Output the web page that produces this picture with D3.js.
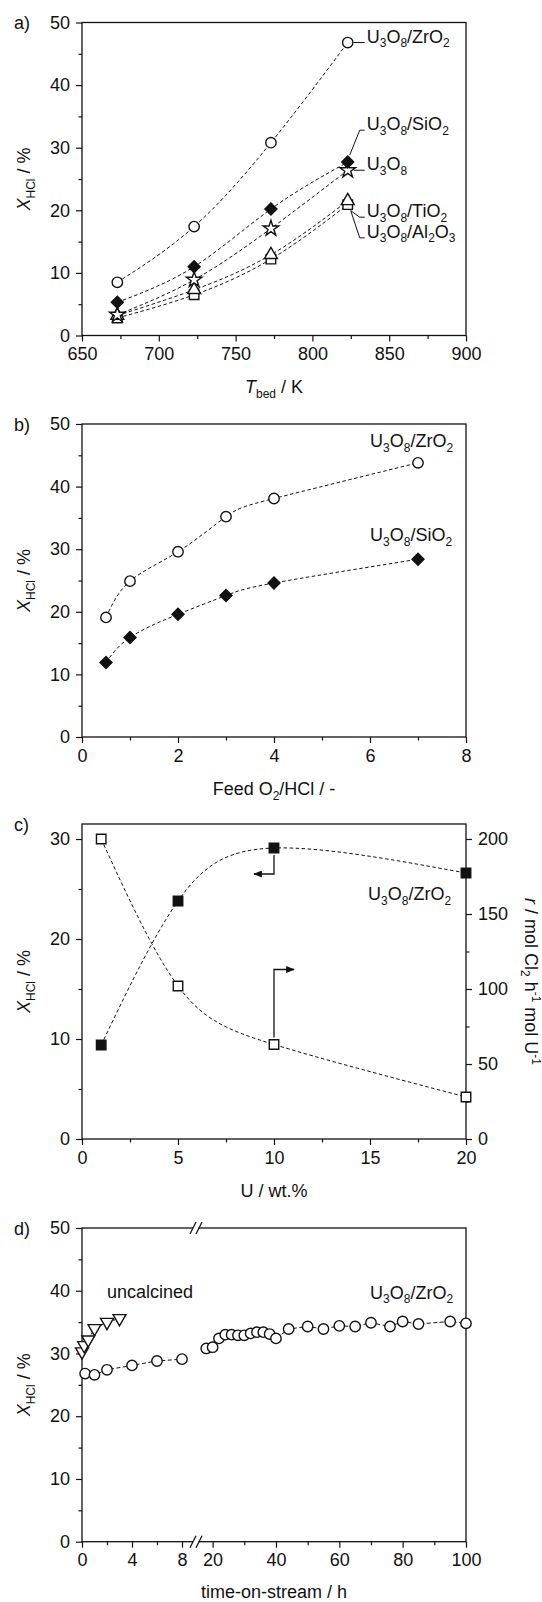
<!DOCTYPE html>
<html>
<head>
<meta charset="utf-8">
<script src="https://cdn.jsdelivr.net/npm/d3@7"></script>
<style>
  body { margin: 0; background: #fff; }
  svg text { font-family: "Liberation Sans", Arial, sans-serif; fill: #111; }
</style>
</head>
<body>
<svg id="fig" width="542" height="1602"></svg>
<script>
// ---- panel a: conversion vs bed temperature
const tempK = [673, 723, 773, 823];
const aZrO2 = [8.5, 17.4, 30.8, 46.8];
const aSiO2 = [5.3, 11.0, 20.2, 27.7];
const aU3O8 = [3.3, 8.9, 17.1, 26.4];
const aTiO2 = [3.2, 7.3, 12.9, 21.5];
const aAl2O3 = [2.8, 6.5, 12.2, 20.9];

// ---- panel b: conversion vs feed O2/HCl
const feedRatio = [0.5, 1, 2, 3, 4, 7];
const bZrO2 = [19.1, 24.9, 29.6, 35.2, 38.1, 43.8];
const bSiO2 = [11.9, 15.9, 19.6, 22.6, 24.6, 28.4];

// ---- panel c: conversion and rate vs U loading
const uLoad = [1, 5, 10, 20];
const cConv = [9.4, 23.8, 29.1, 26.6];
const cRate = [200, 102, 63, 28];

// ---- panel d: time-on-stream
const tUncalc = [0, 0.17, 0.5, 1, 2, 3];
const dUncalc = [30.3, 31.3, 32.2, 34.0, 35.0, 35.6];
const tEarly = [0.25, 1, 2, 4, 6, 8];
const dEarly = [26.8, 26.6, 27.4, 28.1, 28.8, 29.1];
const tLate = [18, 20, 22, 24, 26, 28, 30, 32, 34, 36, 38, 40, 44, 50, 55, 60, 65, 70, 76, 80, 85, 95, 100];
const dLate = [30.8, 31.0, 32.4, 33.0, 33.0, 32.9, 32.9, 33.2, 33.4, 33.4, 33.1, 32.4, 33.9, 34.3, 33.9, 34.4, 34.3, 34.9, 34.3, 35.1, 34.7, 35.1, 34.8];

// tick labels
const ticksA = [650, 700, 750, 800, 850, 900];
const ticksB = [0, 2, 4, 6, 8];
const ticksC = [0, 5, 10, 15, 20];
const ticksD1 = [0, 4, 8];
const ticksD2 = [20, 40, 60, 80, 100];
const ticksY = [0, 10, 20, 30, 40, 50];
const ticksYc = [0, 10, 20, 30];
const ticksRate = [0, 50, 100, 150, 200];

const INK = "#111";
const L = 82, R = 466;
const svg = d3.select("#fig");
svg.append("rect").attr("width", 542).attr("height", 1602).attr("fill", "#fff");

svg.append("defs").append("marker")
  .attr("id", "head").attr("viewBox", "0 0 10 8").attr("refX", 9).attr("refY", 4)
  .attr("markerWidth", 10).attr("markerHeight", 7).attr("markerUnits", "userSpaceOnUse")
  .attr("orient", "auto")
  .append("path").attr("d", "M0,0L10,4L0,8Z").attr("fill", INK);

const U3O8 = [["U"], ["3", "sub"], ["O"], ["8", "sub"]];
const withSupport = s => U3O8.concat([["/" + s.slice(0, -1)], [s.slice(-1), "sub"]]);
const XHCL = [["X", "it"], ["HCl", "sub"], [" / %"]];

function rich(text, parts) {
  let shift = 0;
  parts.forEach(([s, kind]) => {
    const target = kind === "sub" ? 4.5 : kind === "sup" ? -7 : 0;
    const t = text.append("tspan").text(s).attr("dy", target - shift);
    if (kind === "sub" || kind === "sup") t.attr("font-size", 12);
    if (kind === "it") t.attr("font-style", "italic");
    shift = target;
  });
  return text;
}

function label(g, x, y, parts, anchor) {
  return rich(g.append("text").attr("x", x).attr("y", y).attr("dy", "0.35em")
    .attr("font-size", 18).attr("text-anchor", anchor || "start"), parts);
}

function styleAxis(a) {
  a.attr("font-size", 18).attr("font-family", '"Liberation Sans", Arial, sans-serif');
  a.select(".domain").remove();
  a.selectAll("line").attr("stroke", INK).attr("stroke-width", 1.2);
  a.selectAll("text").attr("fill", INK);
}

function drawAxis(g, gen, pos, major, minor) {
  const a = g.append("g").attr("transform", pos)
    .call(gen.tickValues(major).tickSize(6).tickPadding(6).tickFormat(d3.format("d")));
  styleAxis(a);
  const m = g.append("g").attr("transform", pos)
    .call(gen.tickValues(minor).tickSize(3.5).tickFormat(""));
  styleAxis(m);
}

function frame(g, top, bottom) {
  g.append("rect").attr("x", L).attr("y", top).attr("width", R - L).attr("height", bottom - top)
    .attr("fill", "none").attr("stroke", INK).attr("stroke-width", 1.3);
}

function curve(g, xs, ys, x, y, kind, dash) {
  g.append("path").datum(xs.map((v, i) => [v, ys[i]]))
    .attr("d", d3.line().x(d => x(d[0])).y(d => y(d[1])).curve(kind))
    .attr("fill", "none").attr("stroke", INK).attr("stroke-width", 1)
    .attr("stroke-dasharray", dash || "3.5,2.5");
}

const SYM = {
  circle: [d3.symbolCircle, 85, 0],
  diamond: [d3.symbolSquare, 72, 45],
  star: [d3.symbolStar, 75, 0],
  triangle: [d3.symbolTriangle, 72, 0],
  tridown: [d3.symbolTriangle, 72, 180],
  square: [d3.symbolSquare, 90, 0]
};

function marks(g, xs, ys, x, y, shape, filled) {
  const [type, size, rot] = SYM[shape];
  g.append("g").selectAll("path").data(xs.map((v, i) => [v, ys[i]])).join("path")
    .attr("d", d3.symbol(type, size))
    .attr("transform", d => `translate(${x(d[0])},${y(d[1])}) rotate(${rot})`)
    .attr("fill", filled ? INK : "#fff").attr("stroke", INK).attr("stroke-width", 1.4);
}

function yTitle(g, top, bottom) {
  rich(g.append("text").attr("transform", `translate(30,${(top + bottom) / 2}) rotate(-90)`)
    .attr("text-anchor", "middle").attr("font-size", 18), XHCL);
}

function xTitle(g, y, parts) {
  rich(g.append("text").attr("x", (L + R) / 2).attr("y", y).attr("text-anchor", "middle")
    .attr("font-size", 18), parts);
}

function panelTag(g, top, s) {
  g.append("text").attr("x", 14).attr("y", top + 6.5).attr("font-size", 18).text(s);
}

// ================= panel a =================
{
  const top = 22.5, bottom = 335.5;
  const g = svg.append("g");
  const x = d3.scaleLinear().domain([650, 900]).range([L, R]);
  const y = d3.scaleLinear().domain([0, 50]).range([bottom, top]);
  frame(g, top, bottom);
  drawAxis(g, d3.axisBottom(x), `translate(0,${bottom})`, ticksA, [675, 725, 775, 825, 875]);
  drawAxis(g, d3.axisLeft(y), `translate(${L},0)`, ticksY, [5, 15, 25, 35, 45]);
  [aZrO2, aSiO2, aU3O8, aTiO2, aAl2O3].forEach(s => curve(g, tempK, s, x, y, d3.curveNatural));
  marks(g, tempK, aAl2O3, x, y, "square", false);
  marks(g, tempK, aTiO2, x, y, "triangle", false);
  marks(g, tempK, aU3O8, x, y, "star", false);
  marks(g, tempK, aSiO2, x, y, "diamond", true);
  marks(g, tempK, aZrO2, x, y, "circle", false);

  const xe = x(823);
  const leaders = [
    { parts: withSupport("ZrO2"), at: 46.8, from: [6, y(46.8)] },
    { parts: withSupport("SiO2"), at: 32.8, from: [2, y(27.7) - 7] },
    { parts: U3O8, at: 26.4, from: [6, y(26.4)] },
    { parts: withSupport("TiO2"), at: 18.9, from: [3, y(20.9) + 6] },
    { parts: U3O8.concat([["/Al"], ["2", "sub"], ["O"], ["3", "sub"]]), at: 15.6, from: [3, y(20.9) + 6] }
  ];
  leaders.forEach(d => {
    const ly = y(d.at);
    const pts = Math.abs(d.from[1] - ly) < 1
      ? [[xe + d.from[0], ly], [xe + 17, ly]]
      : [[xe + d.from[0], d.from[1]], [xe + 12, ly], [xe + 17, ly]];
    g.append("path").attr("d", d3.line()(pts)).attr("fill", "none")
      .attr("stroke", INK).attr("stroke-width", 1);
    label(g, xe + 19, ly, d.parts);
  });

  yTitle(g, top, bottom);
  xTitle(g, 393, [["T", "it"], ["bed", "sub"], [" / K"]]);
  panelTag(g, top, "a)");
}

// ================= panel b =================
{
  const top = 424, bottom = 737;
  const g = svg.append("g");
  const x = d3.scaleLinear().domain([0, 8]).range([L, R]);
  const y = d3.scaleLinear().domain([0, 50]).range([bottom, top]);
  frame(g, top, bottom);
  drawAxis(g, d3.axisBottom(x), `translate(0,${bottom})`, ticksB, [1, 3, 5, 7]);
  drawAxis(g, d3.axisLeft(y), `translate(${L},0)`, ticksY, [5, 15, 25, 35, 45]);
  curve(g, feedRatio, bZrO2, x, y, d3.curveNatural);
  curve(g, feedRatio, bSiO2, x, y, d3.curveNatural);
  marks(g, feedRatio, bZrO2, x, y, "circle", false);
  marks(g, feedRatio, bSiO2, x, y, "diamond", true);
  label(g, x(6.0), y(46.3), withSupport("ZrO2"));
  label(g, x(6.0), y(31.3), withSupport("SiO2"));
  yTitle(g, top, bottom);
  xTitle(g, 795, [["Feed O"], ["2", "sub"], ["/HCl / -"]]);
  panelTag(g, top, "b)");
}

// ================= panel c =================
{
  const top = 824, bottom = 1139;
  const g = svg.append("g");
  const x = d3.scaleLinear().domain([0, 20]).range([L, R]);
  const y = d3.scaleLinear().domain([0, 31.5]).range([bottom, top]);
  const yr = d3.scaleLinear().domain([0, 210]).range([bottom, top]);
  frame(g, top, bottom);
  drawAxis(g, d3.axisBottom(x), `translate(0,${bottom})`, ticksC, [2.5, 7.5, 12.5, 17.5]);
  drawAxis(g, d3.axisLeft(y), `translate(${L},0)`, ticksYc, [5, 15, 25]);
  drawAxis(g, d3.axisRight(yr), `translate(${R},0)`, ticksRate, [25, 75, 125, 175]);
  curve(g, uLoad, cConv, x, y, d3.curveNatural);
  curve(g, uLoad, cRate, x, yr, d3.curveNatural);
  marks(g, uLoad, cConv, x, y, "square", true);
  marks(g, uLoad, cRate, x, yr, "square", false);

  // axis-pointer arrows at U = 10 wt.%
  const xa = x(uLoad[2]);
  g.append("path").attr("d", d3.line()([[xa, y(cConv[2]) + 7], [xa, y(cConv[2]) + 26], [xa - 20, y(cConv[2]) + 26]]))
    .attr("fill", "none").attr("stroke", INK).attr("stroke-width", 1.3).attr("marker-end", "url(#head)");
  g.append("path").attr("d", d3.line()([[xa, yr(cRate[2]) - 7], [xa, yr(cRate[2]) - 75], [xa + 20, yr(cRate[2]) - 75]]))
    .attr("fill", "none").attr("stroke", INK).attr("stroke-width", 1.3).attr("marker-end", "url(#head)");

  label(g, x(14.9), y(23.9), withSupport("ZrO2"));
  yTitle(g, top, bottom);
  rich(g.append("text").attr("transform", `translate(525,${(top + bottom) / 2}) rotate(90)`)
    .attr("text-anchor", "middle").attr("font-size", 18),
    [["r", "it"], [" / mol Cl"], ["2", "sub"], [" h"], ["-1", "sup"], [" mol U"], ["-1", "sup"]]);
  xTitle(g, 1197, [["U / wt.%"]]);
  panelTag(g, top, "c)");
}

// ================= panel d (broken time axis) =================
{
  const top = 1228, bottom = 1541.7;
  const g = svg.append("g");
  const x1 = d3.scaleLinear().domain([0, 8.8]).range([L, 192]);
  const x2 = d3.scaleLinear().domain([15.7, 100]).range([199, R]);
  const y = d3.scaleLinear().domain([0, 50]).range([bottom, top]);
  frame(g, top, bottom);
  // axis break
  [top, bottom].forEach(yy => {
    g.append("rect").attr("x", 193).attr("y", yy - 2).attr("width", 5.5).attr("height", 4).attr("fill", "#fff");
    [193, 199].forEach(xx => g.append("line")
      .attr("x1", xx - 3).attr("y1", yy + 6).attr("x2", xx + 3).attr("y2", yy - 6)
      .attr("stroke", INK).attr("stroke-width", 1.2));
  });
  drawAxis(g, d3.axisBottom(x1), `translate(0,${bottom})`, ticksD1, [2, 6]);
  drawAxis(g, d3.axisBottom(x2), `translate(0,${bottom})`, ticksD2, [30, 50, 70, 90]);
  drawAxis(g, d3.axisLeft(y), `translate(${L},0)`, ticksY, [5, 15, 25, 35, 45]);

  curve(g, tUncalc, dUncalc, x1, y, d3.curveLinear, "4,2.5");
  curve(g, tEarly, dEarly, x1, y, d3.curveLinear, "4,2.5");
  curve(g, tLate, dLate, x2, y, d3.curveLinear, "4,2.5");
  marks(g, tUncalc, dUncalc, x1, y, "tridown", false);
  marks(g, tEarly, dEarly, x1, y, "circle", false);
  marks(g, tLate, dLate, x2, y, "circle", false);

  label(g, x1(2.0), y(38.8), [["uncalcined"]]);
  label(g, x2(69.7), y(38.7), withSupport("ZrO2"));
  yTitle(g, top, bottom);
  xTitle(g, 1598, [["time-on-stream / h"]]);
  panelTag(g, top, "d)");
}
</script>
</body>
</html>
